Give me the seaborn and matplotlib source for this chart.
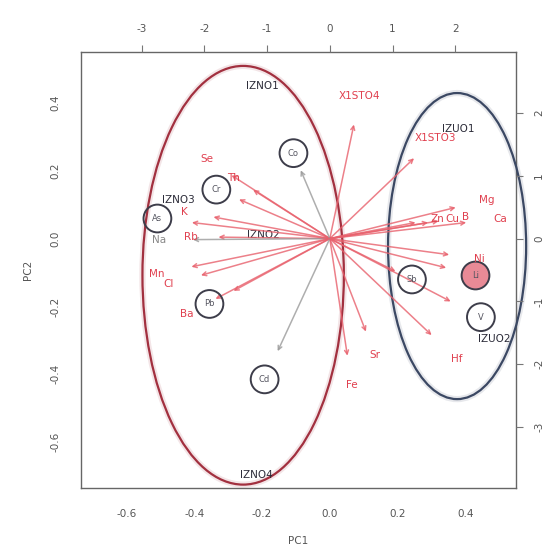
import matplotlib
matplotlib.use("Agg")
import matplotlib.pyplot as plt
from matplotlib.patches import Ellipse
import seaborn as sns
import pandas as pd

# Sample scores (PC1 / PC2, bottom and left axes)
sample_names = ["IZNO1", "IZNO2", "IZNO3", "IZNO4", "IZUO1", "IZUO2"]
sample_pc1 = [-0.198, -0.195, -0.447, -0.216, 0.379, 0.485]
sample_pc2 = [0.450, 0.012, 0.115, -0.698, 0.322, -0.296]

# Variable loadings (top and right axes), labelled in red
var_names = ["X1STO4", "X1STO3", "Se", "Th", "K", "Rb", "Na", "Mn", "Cl", "Ba",
             "Fe", "Sr", "Hf", "Mg", "Ca", "Zn", "Cu", "B", "Ni"]
var_x = [0.48, 1.68, -1.96, -1.53, -2.32, -2.22, -2.73, -2.76, -2.57, -2.28,
         0.35, 0.72, 2.03, 2.51, 2.72, 1.71, 1.96, 2.17, 2.38]
var_y = [2.27, 1.60, 1.26, 0.97, 0.43, 0.03, -0.02, -0.56, -0.73, -1.20,
         -2.33, -1.85, -1.92, 0.62, 0.32, 0.32, 0.32, 0.35, -0.32]

# Highlighted loadings, drawn inside circles
hl_names = ["As", "Cr", "Co", "Pb", "Cd", "Sb", "Li", "V"]
hl_x = [-2.75, -1.81, -0.58, -1.92, -1.04, 1.31, 2.32, 2.41]
hl_y = [0.32, 0.78, 1.36, -1.04, -2.24, -0.65, -0.58, -1.25]
hl_filled = [False, False, False, False, False, False, True, False]

# Group ellipses in score units: centre x, centre y, width, height
ell_red = (-0.256, -0.108, 0.595, 1.234)
ell_blue = (0.376, -0.022, 0.408, 0.902)

score_ticks = [-0.6, -0.4, -0.2, 0.0, 0.2, 0.4]
load_x_ticks = [-3, -2, -1, 0, 1, 2]
load_y_ticks = [-3, -2, -1, 0, 1, 2]

sns.set_style("white")
plt.rcParams["font.family"] = ["DejaVu Sans"]

RED = "#e0404f"
DARK = "#2b2b38"
GRAY = "#555555"

fig = plt.figure(figsize=(5.47, 5.5), dpi=100)
rect = [81 / 547, (550 - 488) / 550, 435 / 547, 436 / 550]
ax = fig.add_axes(rect)
ax2 = fig.add_axes(rect, frameon=False)
ax2.patch.set_alpha(0)

lim = (-0.735, 0.55)
scale = 5.4
ax.set_xlim(lim)
ax.set_ylim(lim)
ax2.set_xlim(lim[0] * scale, lim[1] * scale)
ax2.set_ylim(lim[0] * scale, lim[1] * scale)

# frame and score axes
for sp in ax.spines.values():
    sp.set_color("#666666")
    sp.set_linewidth(1.0)
ax.set_xticks(score_ticks)
ax.set_yticks(score_ticks)
ax.set_xticklabels([f"{t:.1f}" for t in score_ticks])
ax.set_yticklabels([f"{t:.1f}" for t in score_ticks], rotation=90, va="center")
ax.tick_params(direction="out", length=5, width=0.8, colors="#777777",
               labelcolor=GRAY, labelsize=7.5, pad=10)
ax.set_xlabel("PC1", fontsize=7.5, color=GRAY, labelpad=12)
ax.set_ylabel("PC2", fontsize=7.5, color=GRAY, labelpad=12)

# loading axes on top and right
ax2.xaxis.tick_top()
ax2.yaxis.tick_right()
ax2.set_xticks(load_x_ticks)
ax2.set_yticks(load_y_ticks)
ax2.set_xticklabels([str(t) for t in load_x_ticks])
ax2.set_yticklabels([str(t) for t in load_y_ticks], rotation=90, va="center")
ax2.tick_params(direction="out", length=5, width=0.8, colors="#777777",
                labelcolor=GRAY, labelsize=7.5, pad=8)

# group ellipses
for (cx, cy, w, h), col in [(ell_red, "#a2303f"), (ell_blue, "#3b4863")]:
    ax.add_patch(Ellipse((cx, cy), w, h, fill=False, edgecolor=col,
                         lw=4.5, alpha=0.12, clip_on=False, zorder=2))
    ax.add_patch(Ellipse((cx, cy), w, h, fill=False, edgecolor=col,
                         lw=1.6, clip_on=False, zorder=3))

# loading arrows (drawn to 80% of the loading, label at the loading)
gray_arrows = {"Co", "Cd", "Na"}
for name, x, y in list(zip(var_names, var_x, var_y)) + list(zip(hl_names, hl_x, hl_y)):
    col = "#9a9a9a" if name in gray_arrows else "#e8606c"
    ax2.annotate("", xy=(0.8 * x, 0.8 * y), xytext=(0, 0),
                 arrowprops=dict(arrowstyle="->", color=col, lw=1.1, alpha=0.8,
                                 shrinkA=0, shrinkB=0, mutation_scale=7),
                 zorder=4)

for name, x, y in zip(var_names, var_x, var_y):
    col = "#888888" if name == "Na" else RED
    ax2.text(x, y, name, color=col, fontsize=7.5, ha="center", va="center", zorder=6)

# circled loadings
hl = pd.DataFrame({"x": hl_x, "y": hl_y, "name": hl_names, "filled": hl_filled})
sns.scatterplot(data=hl[~hl["filled"]], x="x", y="y", ax=ax2, s=400,
                facecolor="none", edgecolor="#3d3d4a", linewidth=1.4, zorder=5,
                legend=False)
sns.scatterplot(data=hl[hl["filled"]], x="x", y="y", ax=ax2, s=400,
                facecolor="#e88a96", edgecolor="#3d3d4a", linewidth=1.4, zorder=5,
                legend=False)
for _, r in hl.iterrows():
    ax2.text(r["x"], r["y"], r["name"], color="#555560", fontsize=6,
             ha="center", va="center", zorder=6)
ax2.set_xlabel("")
ax2.set_ylabel("")

# sample labels
for name, x, y in zip(sample_names, sample_pc1, sample_pc2):
    ax.text(x, y, name, color=DARK, fontsize=7.5, ha="center", va="center", zorder=7)

fig.savefig("out.png", dpi=100)
